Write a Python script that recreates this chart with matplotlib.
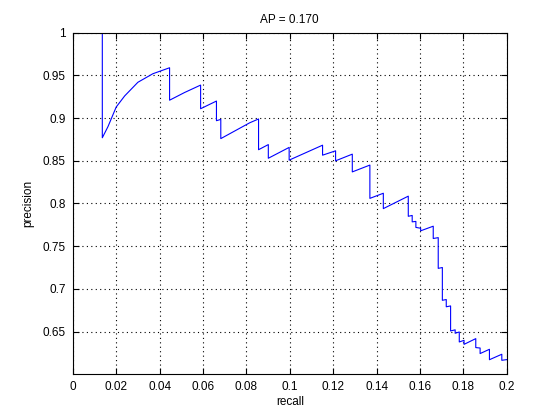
import matplotlib
matplotlib.use("Agg")
import matplotlib.pyplot as plt

# courbe precision / rappel
recall = [0.0136, 0.0136, 0.0162, 0.0200, 0.0239, 0.0300, 0.0369, 0.0446, 0.0446, 0.0515,
          0.0589, 0.0589, 0.0662, 0.0662, 0.0682, 0.0682, 0.0815, 0.0856, 0.0856, 0.0901,
          0.0901, 0.0997, 0.0997, 0.1151, 0.1151, 0.1211, 0.1211, 0.1288, 0.1288, 0.1369,
          0.1369, 0.1431, 0.1431, 0.1546, 0.1546, 0.1564, 0.1564, 0.1581, 0.1581, 0.1603,
          0.1603, 0.1661, 0.1661, 0.1684, 0.1684, 0.1703, 0.1703, 0.1721, 0.1721, 0.1741,
          0.1741, 0.1762, 0.1762, 0.1781, 0.1781, 0.1803, 0.1803, 0.1857, 0.1857, 0.1877,
          0.1877, 0.1920, 0.1920, 0.1977, 0.1977, 0.2010]
precision = [1.000, 0.877, 0.890, 0.913, 0.926, 0.942, 0.952, 0.959, 0.921, 0.930,
             0.9387, 0.911, 0.920, 0.897, 0.8985, 0.876, 0.8945, 0.899, 0.863, 0.869,
             0.853, 0.8657, 0.8508, 0.8683, 0.8566, 0.8617, 0.850, 0.8578, 0.837, 0.845,
             0.806, 0.812, 0.794, 0.8086, 0.785, 0.786, 0.7785, 0.779, 0.772, 0.771,
             0.768, 0.7734, 0.759, 0.760, 0.724, 0.725, 0.6866, 0.6875, 0.679, 0.680,
             0.6507, 0.652, 0.648, 0.6495, 0.6378, 0.6397, 0.635, 0.6417, 0.6312, 0.6307,
             0.6242, 0.6292, 0.617, 0.6234, 0.6163, 0.6175]

xticks = [0, 0.02, 0.04, 0.06, 0.08, 0.1, 0.12, 0.14, 0.16, 0.18, 0.2]
xticklabels = ["0", "0.02", "0.04", "0.06", "0.08", "0.1", "0.12", "0.14", "0.16", "0.18", "0.2"]
yticks = [0.65, 0.7, 0.75, 0.8, 0.85, 0.9, 0.95, 1]
yticklabels = ["0.65", "0.7", "0.75", "0.8", "0.85", "0.9", "0.95", "1"]

plt.rcParams["font.family"] = ["Liberation Sans", "DejaVu Sans"]
plt.rcParams["font.size"] = 8.5

fig = plt.figure(figsize=(5.6, 4.2), dpi=100)
ax = fig.add_axes([0.13, 0.11, 0.775, 0.812])

ax.plot(recall, precision, color=(0, 0, 1), linewidth=0.8)

ax.set_xlim(0, 0.2)
ax.set_ylim(0.6005, 1)
ax.set_xticks(xticks)
ax.set_xticklabels(xticklabels)
ax.set_yticks(yticks)
ax.set_yticklabels(yticklabels)
ax.tick_params(direction="in", length=4, width=0.8, top=True, right=True, pad=5)
ax.grid(True, color="black", linestyle=(0, (1, 3)), linewidth=0.8)
for s in ax.spines.values():
    s.set_linewidth(0.8)

ax.set_title("AP = 0.170", fontsize=8.5, pad=7)
ax.set_xlabel("recall", fontsize=8.5, labelpad=2)
ax.set_ylabel("precision", fontsize=8.5, labelpad=6)

fig.savefig("out.png", dpi=100)
